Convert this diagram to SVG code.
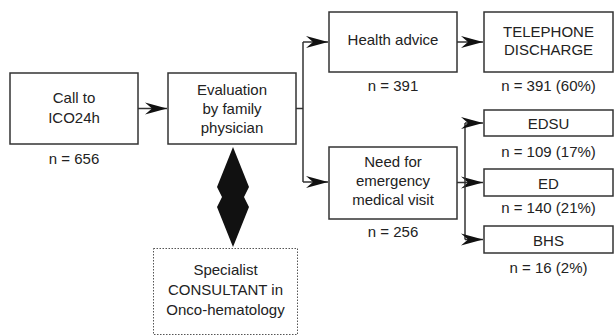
<svg xmlns="http://www.w3.org/2000/svg" width="614" height="336" viewBox="0 0 614 336">
<defs>
<style>
.box{fill:#fff;stroke:#333;stroke-width:1.5}
.dot{fill:#fff;stroke:#555;stroke-width:1;stroke-dasharray:1.5 1.5}
.t{font-family:"Liberation Sans",Arial,sans-serif;font-size:15px;fill:#222;text-anchor:middle}
.ln{fill:none;stroke:#333;stroke-width:1.5}
</style>
<marker id="ah" markerUnits="userSpaceOnUse" markerWidth="24" markerHeight="14" viewBox="-23 -7 24 14" refX="0" refY="0" orient="auto">
<path d="M0,0 L-22,-6 L-15,0 L-22,6 Z" fill="#111"/>
</marker>
</defs>
<rect width="614" height="336" fill="#fff"/>
<g id="connectors">
<line class="ln" x1="138" y1="108.5" x2="167" y2="108.5" marker-end="url(#ah)"/>
<polyline class="ln" points="296,108.5 303,108.5"/>
<line class="ln" x1="303" y1="42" x2="303" y2="182"/>
<line class="ln" x1="303" y1="42" x2="328" y2="42" marker-end="url(#ah)"/>
<line class="ln" x1="303" y1="182" x2="328" y2="182" marker-end="url(#ah)"/>
<line class="ln" x1="457" y1="42" x2="483" y2="42" marker-end="url(#ah)"/>
<line class="ln" x1="457" y1="182.5" x2="483" y2="182.5" marker-end="url(#ah)"/>
<line class="ln" x1="465" y1="123" x2="465" y2="239.5"/>
<line class="ln" x1="465" y1="123" x2="483" y2="123" marker-end="url(#ah)"/>
<line class="ln" x1="465" y1="239.5" x2="483" y2="239.5" marker-end="url(#ah)"/>
<path d="M233,147 L249,187 L244,197 L249,207 L233,247 L217,207 L222,197 L217,187 Z" fill="#111"/>
</g>
<g id="call">
<rect class="box" x="10" y="73" width="128" height="71"/>
<text class="t" x="74" y="103">Call to</text>
<text class="t" x="74" y="123">ICO24h</text>
<text class="t" x="74" y="164">n = 656</text>
</g>
<g id="evaluation">
<rect class="box" x="168" y="73" width="128" height="71"/>
<text class="t" x="232" y="95">Evaluation</text>
<text class="t" x="232" y="114">by family</text>
<text class="t" x="232" y="133">physician</text>
</g>
<g id="specialist">
<rect class="dot" x="153.5" y="248.5" width="144" height="86"/>
<text class="t" x="225.5" y="275">Specialist</text>
<text class="t" x="225.5" y="295">CONSULTANT in</text>
<text class="t" x="225.5" y="315">Onco-hematology</text>
</g>
<g id="health">
<rect class="box" x="329" y="12" width="128" height="60"/>
<text class="t" x="393" y="45">Health advice</text>
<text class="t" x="393" y="91">n = 391</text>
</g>
<g id="telephone">
<rect class="box" x="484" y="12" width="129" height="60"/>
<text class="t" x="548.5" y="37">TELEPHONE</text>
<text class="t" x="548.5" y="55">DISCHARGE</text>
<text class="t" x="548.5" y="91">n = 391 (60%)</text>
</g>
<g id="need">
<rect class="box" x="329" y="147" width="128" height="72"/>
<text class="t" x="393" y="167">Need for</text>
<text class="t" x="393" y="186">emergency</text>
<text class="t" x="393" y="205">medical visit</text>
<text class="t" x="393" y="237">n = 256</text>
</g>
<g id="edsu">
<rect class="box" x="484" y="110" width="129" height="26"/>
<text class="t" x="548.5" y="129">EDSU</text>
<text class="t" x="548.5" y="157">n = 109 (17%)</text>
</g>
<g id="ed">
<rect class="box" x="484" y="169" width="129" height="27"/>
<text class="t" x="548.5" y="189">ED</text>
<text class="t" x="548.5" y="213">n = 140 (21%)</text>
</g>
<g id="bhs">
<rect class="box" x="484" y="226" width="129" height="27"/>
<text class="t" x="548.5" y="246">BHS</text>
<text class="t" x="548.5" y="273">n = 16 (2%)</text>
</g>
</svg>
